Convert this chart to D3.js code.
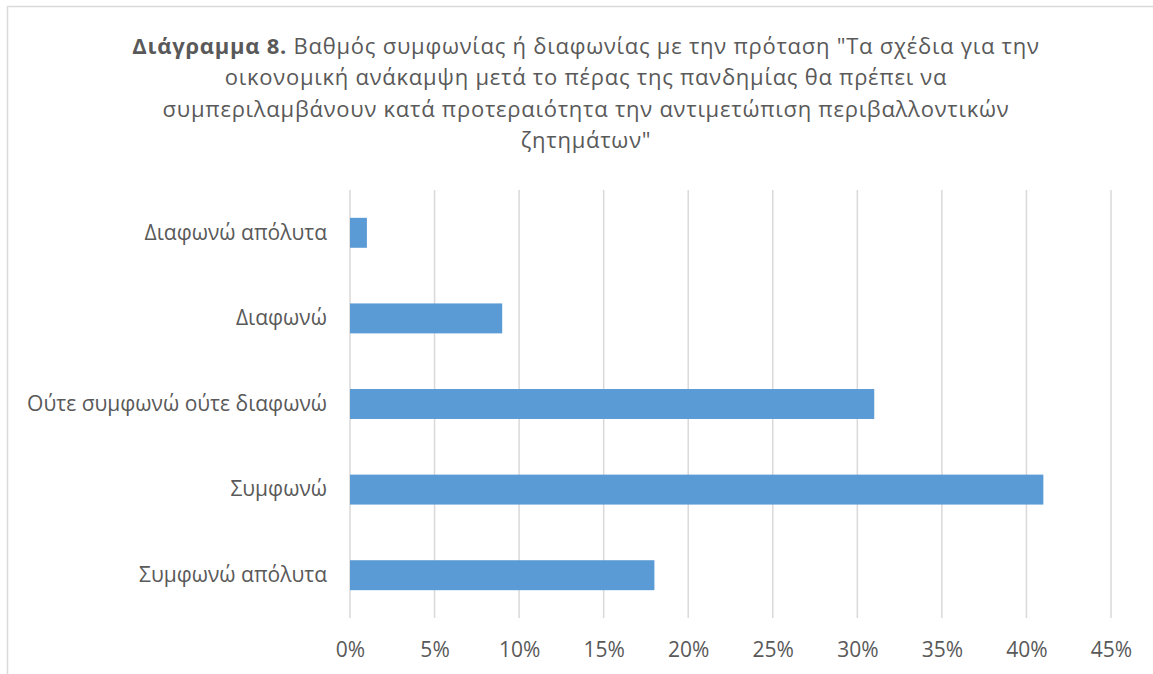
<!DOCTYPE html>
<html>
<head>
<meta charset="utf-8">
<script src="https://cdn.jsdelivr.net/npm/d3@7"></script>
<style>
  body { margin: 0; background: #fff; }
  text { font-family: "Open Sans", sans-serif; fill: #595959; }
</style>
</head>
<body>
<svg id="chart"></svg>
<script>
// Data
const categories = ["Διαφωνώ απόλυτα", "Διαφωνώ", "Ούτε συμφωνώ ούτε διαφωνώ", "Συμφωνώ", "Συμφωνώ απόλυτα"];
const values = [1, 9, 31, 41, 18];
const xTicks = [0, 5, 10, 15, 20, 25, 30, 35, 40, 45];
const titleLines = [
  "Βαθμός συμφωνίας ή διαφωνίας με την πρόταση \"Τα σχέδια για την",
  "οικονομική ανάκαμψη μετά το πέρας της πανδημίας θα πρέπει να",
  "συμπεριλαμβάνουν κατά προτεραιότητα την αντιμετώπιση περιβαλλοντικών",
  "ζητημάτων\""
];
const titleBold = "Διάγραμμα 8.";

const width = 1153;
const height = 674;
const margin = { top: 190, right: 42, bottom: 56, left: 350 };

const svg = d3.select("#chart")
    .attr("width", width)
    .attr("height", height);

// chart border (Excel chart area)
svg.append("rect")
    .attr("x", 7.5).attr("y", 6.5)
    .attr("width", width + 20).attr("height", height + 20)
    .attr("fill", "none")
    .attr("stroke", "#d9d9d9")
    .attr("stroke-width", 1.5);

const x = d3.scaleLinear()
    .domain([0, 45])
    .range([margin.left, width - margin.right]);

const y = d3.scaleBand()
    .domain(categories)
    .range([margin.top, height - margin.bottom])
    .paddingInner(0.65)
    .paddingOuter(0.325);

// gridlines
svg.append("g")
    .selectAll("line")
    .data(xTicks)
    .join("line")
    .attr("x1", d => x(d)).attr("x2", d => x(d))
    .attr("y1", margin.top).attr("y2", height - margin.bottom)
    .attr("stroke", "#d9d9d9")
    .attr("stroke-width", 1.5);

// bars
svg.append("g")
    .selectAll("rect")
    .data(values)
    .join("rect")
    .attr("x", x(0))
    .attr("y", (d, i) => y(categories[i]))
    .attr("width", d => x(d) - x(0))
    .attr("height", y.bandwidth())
    .attr("fill", "#5b9bd5");

// x axis labels
const xAxis = svg.append("g")
    .attr("transform", `translate(0,${height - margin.bottom})`)
    .call(d3.axisBottom(x).tickValues(xTicks).tickFormat(d => d + "%").tickSize(0).tickPadding(24));
xAxis.select(".domain").remove();
xAxis.selectAll("text")
    .attr("font-size", 21)
    .style("font-family", "'Open Sans', sans-serif")
    .attr("fill", "#595959");

// y axis labels
const yAxis = svg.append("g")
    .attr("transform", `translate(${margin.left},0)`)
    .call(d3.axisLeft(y).tickSize(0).tickPadding(23));
yAxis.select(".domain").remove();
yAxis.selectAll("text")
    .attr("font-size", 21)
    .style("font-family", "'Open Sans', sans-serif")
    .attr("fill", "#595959");

// title
const title = svg.append("g")
    .attr("text-anchor", "middle")
    .attr("font-size", 22)
    .attr("letter-spacing", 0.75);
titleLines.forEach((line, i) => {
    const t = title.append("text")
        .attr("x", 586)
        .attr("y", 54 + i * 31.3);
    if (i === 0) {
        t.append("tspan").attr("font-weight", "bold").text(titleBold + " ");
    }
    t.append("tspan").text(line);
});
</script>
</body>
</html>
